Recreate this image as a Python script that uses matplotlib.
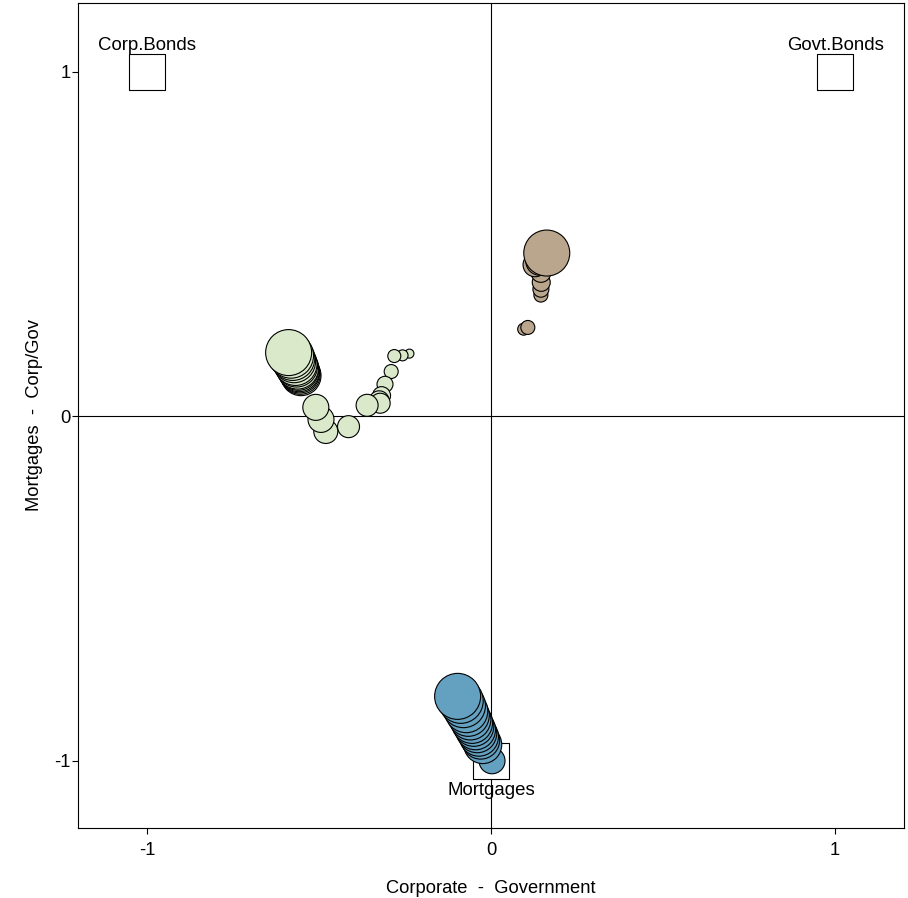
import numpy as np
import matplotlib
matplotlib.use('Agg')
import matplotlib.pyplot as plt

plt.rcParams['font.family'] = ['Liberation Sans', 'DejaVu Sans']
plt.rcParams['axes.unicode_minus'] = False

# corner points (pure portfolios)
corner_names = ['Corp.Bonds', 'Govt.Bonds', 'Mortgages']
corner_x = [-1, 1, 0]
corner_y = [1, 1, -1]

# green group
green_x = [-0.237, -0.257, -0.281, -0.290, -0.308, -0.318, -0.325, -0.322, -0.360,
           -0.414, -0.480, -0.494, -0.509,
           -0.552, -0.554, -0.556, -0.558, -0.560, -0.562, -0.565, -0.568, -0.572,
           -0.576, -0.581, -0.588]
green_y = [0.182, 0.177, 0.175, 0.130, 0.093, 0.060, 0.045, 0.038, 0.032,
           -0.030, -0.044, -0.009, 0.026,
           0.118, 0.122, 0.126, 0.131, 0.135, 0.140, 0.146, 0.152, 0.160,
           0.168, 0.176, 0.185]
green_w = [4.5, 5.5, 6.5, 7, 8, 9, 10, 10, 11,
           11, 12, 13, 13,
           20, 20, 20, 20.5, 20.5, 21, 21, 21.5, 21.5, 22, 22.5, 23]

# brown group
brown_x = [0.095, 0.107, 0.145, 0.145, 0.146, 0.145, 0.128, 0.142, 0.162]
brown_y = [0.253, 0.258, 0.352, 0.369, 0.389, 0.418, 0.440, 0.450, 0.474]
brown_w = [6, 7, 7, 8, 9, 10, 12, 14, 23]

# blue group
blue_x = [0.003, -0.024, -0.030, -0.035, -0.040, -0.045, -0.050, -0.055, -0.060,
          -0.066, -0.072, -0.080, -0.088, -0.097]
blue_y = [-1.000, -0.953, -0.940, -0.930, -0.920, -0.910, -0.900, -0.890, -0.880,
          -0.868, -0.856, -0.840, -0.826, -0.813]
blue_w = [13, 19, 19, 19.5, 19.5, 20, 20, 20.5, 20.5, 21, 21.5, 22, 22.5, 23]

fig = plt.figure(figsize=(9.08, 8.98), dpi=100)
ax = fig.add_axes([0.0859, 0.078, 0.9097, 0.9187])

ax.axhline(0, color='black', lw=0.8, zorder=1)
ax.axvline(0, color='black', lw=0.8, zorder=1)

ax.scatter(corner_x, corner_y, marker='s', s=26 ** 2, facecolor='white',
           edgecolor='black', linewidth=0.8, zorder=2)


def wsize(w):
    return (np.array(w) * 1.44) ** 2


for xs, ys, ws, col in [(green_x, green_y, green_w, '#d9e9c9'),
                        (brown_x, brown_y, brown_w, '#baa68c'),
                        (blue_x, blue_y, blue_w, '#64a0c0')]:
    ax.scatter(xs, ys, s=wsize(ws), facecolor=col, edgecolor='black',
               linewidth=0.8, zorder=3)

for name, x, y in zip(corner_names, corner_x, corner_y):
    if y > 0:
        ax.annotate(name, (x, y), xytext=(0, 13), textcoords='offset points',
                    ha='center', va='bottom', fontsize=13.4, zorder=4)
    else:
        ax.annotate(name, (x, y), xytext=(0, -15), textcoords='offset points',
                    ha='center', va='top', fontsize=13.4, zorder=4)

ax.set_xlim(-1.2, 1.2)
ax.set_ylim(-1.195, 1.2)
ax.set_xticks([-1, 0, 1])
ax.set_yticks([-1, 0, 1])
ax.tick_params(direction='out', length=4, width=0.8, labelsize=13.2)
ax.tick_params(axis='x', pad=6)
ax.tick_params(axis='y', pad=1.5)
for sp in ax.spines.values():
    sp.set_linewidth(0.8)

ax.set_xlabel('Corporate  -  Government', fontsize=13.2, labelpad=15)
ax.set_ylabel('Mortgages  -  Corp/Gov', fontsize=13.2, labelpad=8)

fig.savefig('out.png', dpi=100)
